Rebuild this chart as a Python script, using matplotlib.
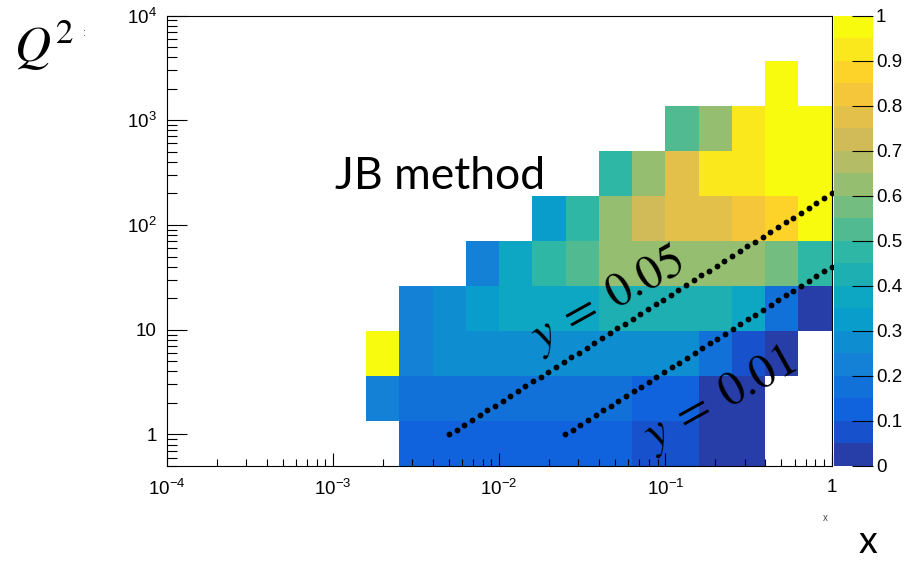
import numpy as np
import matplotlib
matplotlib.use('Agg')
import matplotlib.pyplot as plt
from matplotlib.colors import ListedColormap, BoundaryNorm
from matplotlib.ticker import LogLocator, FixedLocator, NullFormatter

plt.rcParams['font.family'] = ['Liberation Sans', 'DejaVu Sans']

nan = np.nan

# binning: x in 0.2-decade bins (filled range 10^-2.8 .. 1), Q2 in 10 log bins 0.5 .. 1e4
x_edges = np.logspace(-2.8, 0, 15)
q2_edges = np.logspace(np.log10(0.5), 4, 11)

# efficiency per Q2 bin (lowest first), one entry per x bin
eff_q2_0 = [nan, 0.12, 0.12, 0.13, 0.12, 0.12, 0.13, 0.12, 0.08, 0.07, 0.03, 0.02, nan, nan]
eff_q2_1 = [0.22, 0.17, 0.17, 0.18, 0.17, 0.17, 0.18, 0.17, 0.12, 0.13, 0.03, 0.02, nan, nan]
eff_q2_2 = [1.00, 0.22, 0.27, 0.28, 0.27, 0.27, 0.28, 0.27, 0.27, 0.28, 0.17, 0.07, 0.03, nan]
eff_q2_3 = [nan, 0.22, 0.27, 0.32, 0.37, 0.38, 0.37, 0.42, 0.43, 0.42, 0.42, 0.37, 0.17, 0.03]
eff_q2_4 = [nan, nan, nan, 0.22, 0.37, 0.47, 0.52, 0.62, 0.62, 0.63, 0.62, 0.62, 0.57, 0.47]
eff_q2_5 = [nan, nan, nan, nan, nan, 0.32, 0.47, 0.62, 0.72, 0.77, 0.78, 0.82, 0.87, 1.00]
eff_q2_6 = [nan, nan, nan, nan, nan, nan, nan, 0.47, 0.62, 0.77, 0.92, 0.93, 1.00, 1.00]
eff_q2_7 = [nan, nan, nan, nan, nan, nan, nan, nan, nan, 0.52, 0.62, 0.92, 1.00, 1.00]
eff_q2_8 = [nan, nan, nan, nan, nan, nan, nan, nan, nan, nan, nan, nan, 1.00, nan]
eff_q2_9 = [nan] * 14

eff = np.ma.masked_invalid(np.array([eff_q2_0, eff_q2_1, eff_q2_2, eff_q2_3, eff_q2_4,
                                     eff_q2_5, eff_q2_6, eff_q2_7, eff_q2_8, eff_q2_9]))

# constant-inelasticity lines, Q2 = s*x*y
s_cm = 4000.0
y_lines = [0.05, 0.01]
y_labels = [r'$y\;=\;0.05$', r'$y\;=\;0.01$']
x_line_start = [0.005, 0.025]
n_dots = [51, 36]

# ROOT kBird palette, 20 contour levels
stops = [0.0, 0.125, 0.25, 0.375, 0.5, 0.625, 0.75, 0.875, 1.0]
red = [0.2082, 0.0592, 0.0780, 0.0232, 0.1802, 0.5301, 0.8186, 0.9956, 0.9764]
green = [0.1664, 0.3599, 0.5041, 0.6419, 0.7178, 0.7492, 0.7328, 0.7862, 0.9832]
blue = [0.5293, 0.8684, 0.8385, 0.7914, 0.6425, 0.4662, 0.3499, 0.1968, 0.0539]
nlev = 20
pos = np.array([min(int((i + 0.99) * 255 / nlev), 254) / 254 for i in range(nlev)])
cols = np.column_stack([np.interp(pos, stops, red), np.interp(pos, stops, green),
                        np.interp(pos, stops, blue)])
cmap = ListedColormap(cols)
norm = BoundaryNorm(np.linspace(0, 1, nlev + 1), nlev, clip=True)

W, H = 907, 562
fig = plt.figure(figsize=(W / 100, H / 100), dpi=100)
ax = fig.add_axes([166.5 / W, 1 - 466 / H, 665 / W, 450.5 / H])
mesh = ax.pcolormesh(x_edges, q2_edges, eff, cmap=cmap, norm=norm, shading='flat')

ax.set_xscale('log')
ax.set_yscale('log')
ax.set_xlim(1e-4, 1)
ax.set_ylim(0.5, 1e4)

for yv, x0, n in zip(y_lines, x_line_start, n_dots):
    xs = np.logspace(np.log10(x0), 0, n)
    ax.plot(xs, s_cm * yv * xs, 'o', color='black', ms=4.2, mew=0, clip_on=False)

ax.xaxis.set_major_locator(FixedLocator([1e-4, 1e-3, 1e-2, 1e-1, 1]))
ax.set_xticklabels([r'$\mathdefault{10^{-4}}$', r'$\mathdefault{10^{-3}}$',
                    r'$\mathdefault{10^{-2}}$', r'$\mathdefault{10^{-1}}$', '1'])
ax.yaxis.set_major_locator(FixedLocator([1, 10, 100, 1000, 10000]))
ax.set_yticklabels(['1', '10', r'$\mathdefault{10^{2}}$', r'$\mathdefault{10^{3}}$',
                    r'$\mathdefault{10^{4}}$'])
for a in (ax.xaxis, ax.yaxis):
    a.set_minor_locator(LogLocator(base=10, subs=np.arange(2, 10), numticks=100))
    a.set_minor_formatter(NullFormatter())

ax.tick_params(axis='x', which='major', direction='in', length=9.5, width=0.8, pad=9, labelsize=13.5)
ax.tick_params(axis='x', which='minor', direction='in', length=4.7, width=0.8)
ax.tick_params(axis='y', which='major', direction='in', length=14.5, width=0.8, pad=7, labelsize=13.5)
ax.tick_params(axis='y', which='minor', direction='in', length=7.2, width=0.8)
for sp in ax.spines.values():
    sp.set_linewidth(0.8)

cax = fig.add_axes([834 / W, 1 - 466 / H, 39 / W, 450.5 / H])
cb = fig.colorbar(mesh, cax=cax, ticks=np.linspace(0, 1, 11))
cb.outline.set_visible(False)
cb.ax.set_yticklabels(['0', '0.1', '0.2', '0.3', '0.4', '0.5', '0.6', '0.7', '0.8', '0.9', '1'])
cax.tick_params(which='major', direction='in', length=15, width=0.8, pad=2, labelsize=13.5)
cax.minorticks_off()

# labels
fig.text(14 / W, 1 - 62 / H, '$Q^2$', fontsize=36, math_fontfamily='stix', ha='left', va='baseline')
fig.text(84 / W, 1 - 33 / H, ':', fontsize=8, color='#444444', ha='center', va='center')
fig.text(335 / W, 1 - 177 / H, 'JB method', family='Lato', fontsize=32, ha='left', va='center')
fig.text(868 / W, 1 - 553 / H, 'x', family='Lato', fontsize=27, ha='center', va='baseline')
fig.text(825 / W, 1 - 518 / H, 'x', fontsize=7, color='#444444', ha='center', va='center')

label_pos = [(607, 300), (720, 400)]
for lab, (px, py) in zip(y_labels, label_pos):
    fig.text(px / W, 1 - py / H, lab, fontsize=34, math_fontfamily='stix',
             rotation=29, ha='center', va='center', rotation_mode='anchor')

fig.savefig('out.png', dpi=100)
